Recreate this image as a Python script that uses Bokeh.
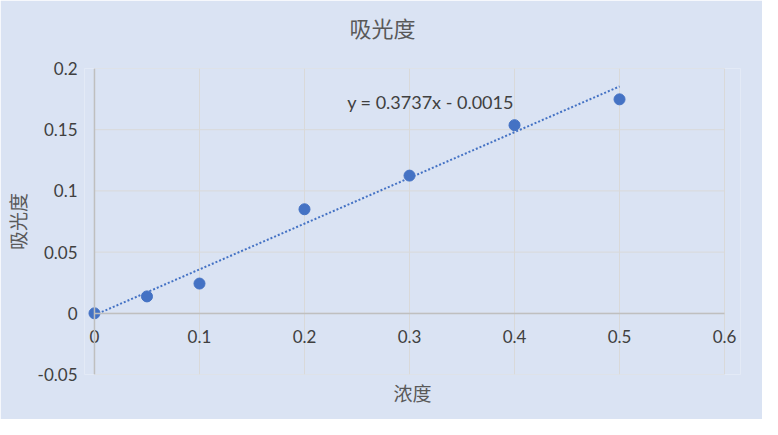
from bokeh.plotting import figure
from bokeh.models import FixedTicker, Range1d, LinearAxis, Span, Title
from bokeh.core.properties import value
from bokeh.embed import file_html
from bokeh.resources import INLINE

# data
conc = [0, 0.05, 0.1, 0.2, 0.3, 0.4, 0.5]
absorb = [0, 0.0138, 0.0243, 0.085, 0.1125, 0.1537, 0.1748]
slope = 0.3737
intercept = -0.0015
trend_x = [0, 0.5]
x_min, x_max = 0, 0.6
y_min, y_max = -0.05, 0.2
x_ticks = [0, 0.1, 0.2, 0.3, 0.4, 0.5, 0.6]
x_tick_labels = ["0", "0.1", "0.2", "0.3", "0.4", "0.5", "0.6"]
y_ticks = [-0.05, 0, 0.05, 0.1, 0.15, 0.2]
y_tick_labels = ["-0.05", "0", "0.05", "0.1", "0.15", "0.2"]
equation = "y = 0.3737x - 0.0015"
title_text = "吸光度"
x_label = "浓度"
y_label = "吸光度"

BG = "#DAE3F3"
BLUE = "#4472C4"
GRID = "#D9D9D9"
AXIS = "#BFBFBF"
TXT = "#404040"
LBL = "#595959"
CJK = "Noto Sans CJK SC"
NUM = "Lato"

# small padding (in data units) so edge tick labels are not cut by the frame
pad_l, pad_r = 0.0095, 0.0152

p = figure(width=762, height=419, output_backend="svg", toolbar_location=None,
           x_range=Range1d(x_min - pad_l, x_max + pad_r), y_range=Range1d(y_min, y_max),
           min_border_left=83, min_border_right=22, min_border_top=65, min_border_bottom=45)
p.background_fill_color = BG
p.border_fill_color = BG
p.outline_line_color = None

# x axis drawn at y = 0, labels below the zero line
xa = p.below[0]
xa.fixed_location = 0
xa.bounds = (x_min, x_max)
xa.ticker = FixedTicker(ticks=x_ticks)
xa.major_label_overrides = {t: l for t, l in zip(x_ticks, x_tick_labels)}
xa.axis_line_color = AXIS
xa.axis_line_width = 1.5
xa.major_tick_line_color = None
xa.minor_tick_line_color = None
xa.major_tick_out = 0
xa.major_tick_in = 0
xa.major_label_standoff = 17
xa.major_label_text_font = NUM
xa.major_label_text_font_size = "17px"
xa.major_label_text_color = TXT

ya = p.left[0]
ya.ticker = FixedTicker(ticks=y_ticks)
ya.major_label_overrides = {t: l for t, l in zip(y_ticks, y_tick_labels)}
ya.axis_line_color = None
ya.major_tick_line_color = None
ya.minor_tick_line_color = None
ya.major_tick_out = 0
ya.major_tick_in = 0
ya.major_label_standoff = 7
ya.major_label_text_font = NUM
ya.major_label_text_font_size = "17px"
ya.major_label_text_color = TXT
ya.axis_label = y_label
ya.axis_label_text_font = CJK
ya.axis_label_text_font_size = "19px"
ya.axis_label_text_font_style = "normal"
ya.axis_label_text_color = LBL
ya.axis_label_standoff = 4

# separate bottom axis carrying only the axis title
xl = LinearAxis(ticker=FixedTicker(ticks=[]), axis_line_color=None,
                major_tick_line_color=None, minor_tick_line_color=None,
                major_tick_out=0, major_label_standoff=0,
                axis_label=x_label, axis_label_text_font=CJK,
                axis_label_text_font_size="19px", axis_label_text_font_style="normal",
                axis_label_text_color=LBL, axis_label_standoff=4)
p.add_layout(xl, "below")

# blank spacer between the frame and the chart title
p.add_layout(Title(text=" ", text_font_size="1px", standoff=14), "above")

p.title.text = title_text
p.title.align = "left"
p.title.offset = 265
p.title.vertical_align = "bottom"
p.title.standoff = 17
p.title.text_font = CJK
p.title.text_font_size = "22px"
p.title.text_font_style = "normal"
p.title.text_color = LBL

# gridlines limited to the plot area
p.ygrid.grid_line_color = None
p.segment(x0=[x_min] * len(y_ticks), y0=y_ticks, x1=[x_max] * len(y_ticks), y1=y_ticks,
          line_color=GRID, line_width=1)
p.xgrid.ticker = FixedTicker(ticks=x_ticks)
p.xgrid.grid_line_color = GRID

# y axis line at x = 0
p.add_layout(Span(location=x_min, dimension="height", line_color=AXIS, line_width=1.5))

# trendline
trend_y = [slope * v + intercept for v in trend_x]
p.line(trend_x, trend_y, line_color=BLUE, line_width=2, line_dash="2 2")

p.scatter(conc, absorb, size=11, fill_color=BLUE, line_color=BLUE)

p.text(x=[0.2406], y=[0.173], text=[equation], text_font=value(NUM), text_font_size="18px",
       text_color=TXT, text_align="left", text_baseline="middle")

html = file_html(p, INLINE)
html = html.replace("<body>", '<body style="background:%s">' % BG, 1)
open("out.html", "w").write(html)
